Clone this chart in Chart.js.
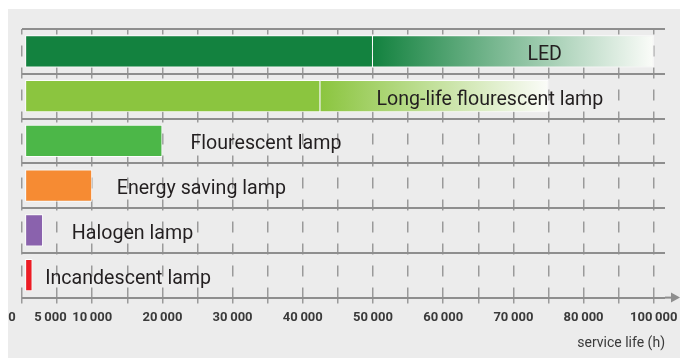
<!DOCTYPE html>
<html>
<head>
<meta charset="utf-8">
<script src="https://cdn.jsdelivr.net/npm/chart.js@4.4.1/dist/chart.umd.min.js"></script>
<style>
  html, body { margin: 0; padding: 0; background: #fff; }
  #wrap { width: 680px; height: 358px; }
</style>
</head>
<body>
<div id="wrap"><canvas id="lifeChart" width="680" height="358"></canvas></div>
<script>
// lamp types, top row first
var lamps = ['LED', 'Long-life flourescent lamp', 'Flourescent lamp', 'Energy saving lamp', 'Halogen lamp', 'Incandescent lamp'];
// service life in hours: solid part of each bar
var lifeLow = [50000, 42500, 20000, 10000, 3000, 1500];
// upper end of the range in hours (faded part), only where there is one
var lifeHigh = [100000, 75000, null, null, null, null];
// hours that get a label on the axis
var tickHours = [0, 5000, 10000, 20000, 30000, 40000, 50000, 60000, 70000, 80000, 100000];

var lampColors = ['#13823f', '#8bc53f', '#4cb748', '#f68b33', '#8a62ad', '#ed1c24'];
var gridColor = '#8e8e8e';

// the scale is squeezed above 80 000 h (80 000 - 100 000 fits in two 5 000 steps)
function toAxis(h) {
  return h <= 80000 ? h : 80000 + (h - 80000) / 2;
}
function fromAxis(v) {
  return v <= 80000 ? v : 80000 + (v - 80000) * 2;
}

function fmtHours(h) {
  // thin space as thousands separator
  return String(h).replace(/\B(?=(\d{3})+(?!\d))/g, '\u2009');
}

function fadeFill(ctx) {
  var i = ctx.dataIndex, chart = ctx.chart, x = chart.scales.x;
  if (!chart.chartArea || !x || lifeHigh[i] == null) return lampColors[i];
  var x0 = x.getPixelForValue(toAxis(lifeLow[i]));
  var x1 = x.getPixelForValue(toAxis(lifeHigh[i]));
  var g = chart.ctx.createLinearGradient(x0, 0, x1, 0);
  g.addColorStop(0, lampColors[i]);
  g.addColorStop(1, '#fbfcf9');
  return g;
}

// grey panel behind the chart
var panel = {
  id: 'panel',
  beforeDraw: function (chart) {
    var ctx = chart.ctx;
    ctx.save();
    ctx.fillStyle = '#ececec';
    ctx.fillRect(8, 9, chart.width - 8, chart.height - 9);
    ctx.restore();
  }
};

// names next to / inside the bars, left edge given in hours
var labelAt = [72000, 50500, 24000, 13500, 7100, 3300];
var barLabels = {
  id: 'barLabels',
  afterDatasetsDraw: function (chart) {
    var ctx = chart.ctx, x = chart.scales.x, y = chart.scales.y;
    ctx.save();
    ctx.font = '20px Roboto';
    ctx.fillStyle = '#231f20';
    ctx.textBaseline = 'alphabetic';
    lamps.forEach(function (name, i) {
      var px = x.getPixelForValue(toAxis(labelAt[i]));
      var py = y.getPixelForValue(i) + 8.5;
      ctx.save();
      ctx.translate(px, py);
      ctx.scale(0.98, 1);
      ctx.fillText(name, 0, 0);
      ctx.restore();
    });
    ctx.restore();
  }
};

// arrow at the end of the time axis
var axisArrow = {
  id: 'axisArrow',
  afterDraw: function (chart) {
    var ctx = chart.ctx, a = chart.chartArea, w = chart.width;
    ctx.save();
    ctx.strokeStyle = gridColor;
    ctx.fillStyle = gridColor;
    ctx.lineWidth = 2;
    ctx.beginPath();
    ctx.moveTo(a.right, a.bottom);
    ctx.lineTo(w - 6, a.bottom);
    ctx.stroke();
    ctx.beginPath();
    ctx.moveTo(w, a.bottom);
    ctx.lineTo(w - 9, a.bottom - 5);
    ctx.lineTo(w - 9, a.bottom + 5);
    ctx.closePath();
    ctx.fill();
    ctx.restore();
  }
};

new Chart(document.getElementById('lifeChart'), {
  type: 'bar',
  data: {
    labels: lamps,
    datasets: [{
      data: lifeLow.map(toAxis),
      base: 450,
      backgroundColor: lampColors,
      borderColor: 'rgba(255,255,255,0.9)',
      borderWidth: 1,
      borderSkipped: false,
      grouped: false,
      barPercentage: 0.72,
      categoryPercentage: 1
    }, {
      data: lifeHigh.map(function (h, i) {
        return h == null ? null : [toAxis(lifeLow[i]), toAxis(h)];
      }),
      backgroundColor: fadeFill,
      borderColor: 'rgba(255,255,255,0.9)',
      borderWidth: 1,
      borderSkipped: 'start',
      grouped: false,
      barPercentage: 0.72,
      categoryPercentage: 1
    }]
  },
  options: {
    indexAxis: 'y',
    responsive: false,
    animation: false,
    layout: { padding: { left: 22, right: 15, top: 29, bottom: 6 } },
    plugins: {
      legend: { display: false },
      tooltip: { enabled: false }
    },
    scales: {
      x: {
        type: 'linear',
        min: 0,
        max: 91600,
        // a grid line every 5 000 axis units, up to the 100 000 h mark
        afterBuildTicks: function (scale) {
          var t = [];
          for (var v = 0; v <= toAxis(100000); v += 5000) t.push({ value: v });
          scale.ticks = t;
        },
        // the end labels may hang over the plot edges
        afterFit: function (scale) {
          scale.paddingLeft = 0;
          scale.paddingRight = 0;
        },
        border: { display: false, dash: [11, 11], dashOffset: 5.5 },
        grid: {
          color: '#9a9a9a',
          lineWidth: 1.5,
          tickLength: 6,
          tickColor: '#9a9a9a',
          tickWidth: 1.5
        },
        ticks: {
          autoSkip: false,
          maxRotation: 0,
          padding: 6,
          color: '#3a3a3a',
          font: { family: 'Roboto', size: 13, weight: 'bold' },
          callback: function (v) {
            var h = fromAxis(v);
            if (tickHours.indexOf(h) < 0) return '';
            if (h === 0) return '0\u2002\u2002\u2002';
            if (h === 5000) return fmtHours(h) + '\u2002\u2002';
            return fmtHours(h);
          }
        },
        title: {
          display: true,
          text: 'service life (h)',
          align: 'end',
          color: '#3a3a3a',
          font: { family: 'Roboto', size: 14 },
          padding: { top: 4, bottom: 0 }
        }
      },
      y: {
        offset: true,
        grid: { offset: true, color: gridColor, lineWidth: 2, drawTicks: false },
        border: { display: false },
        ticks: { display: false }
      }
    }
  },
  plugins: [panel, barLabels, axisArrow]
});
</script>
</body>
</html>
